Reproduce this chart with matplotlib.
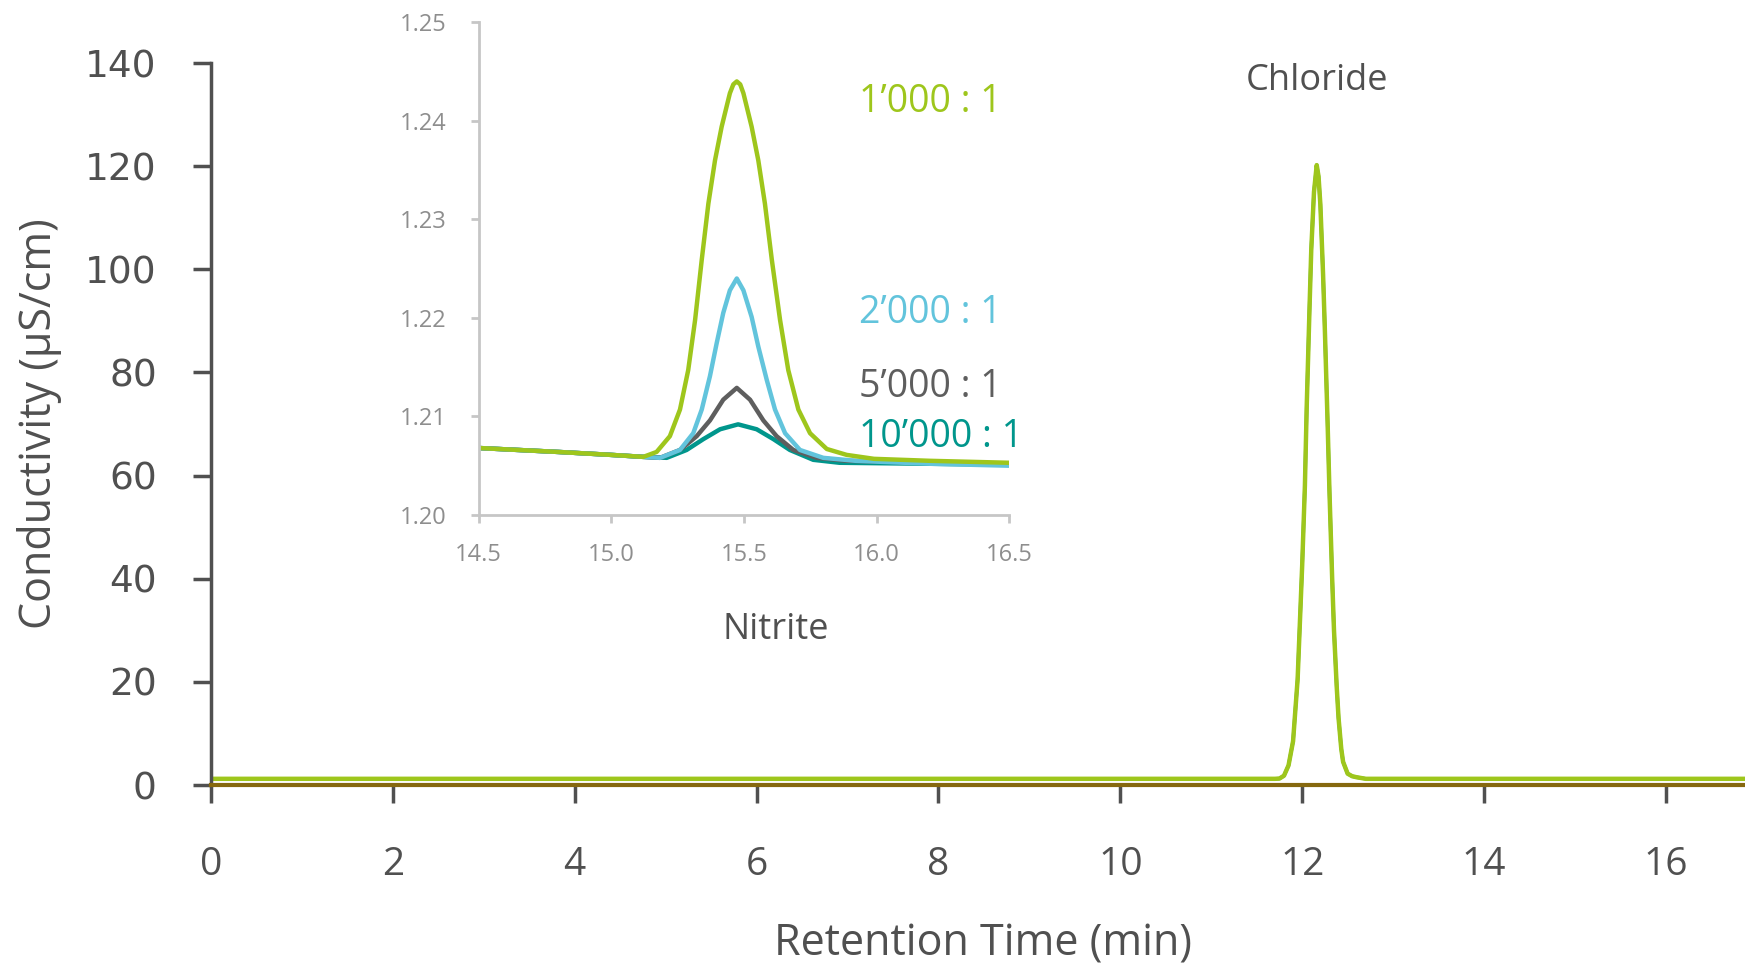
import numpy as np
import matplotlib
matplotlib.use('Agg')
import matplotlib.pyplot as plt

# main chromatogram
main_time = [0.0, 11.70, 11.75, 11.80, 11.85, 11.90, 11.95, 12.00, 12.03, 12.05, 12.08, 12.10, 12.13,
             12.16, 12.18, 12.20, 12.23, 12.25, 12.28, 12.30, 12.33, 12.35, 12.38, 12.40, 12.43,
             12.45, 12.50, 12.55, 12.60, 12.70, 16.87]
main_cond = [1.2, 1.2, 1.25, 1.8, 3.8, 8.5, 20.5, 42.5, 58.0, 73.4, 92.0, 103.8, 115.0,
             120.2, 118.0, 112.6, 99.0, 88.0, 70.0, 57.0, 40.0, 30.0, 19.0, 13.0, 7.0,
             4.5, 2.2, 1.7, 1.5, 1.2, 1.2]

# inset: nitrite peak at the four dilutions
time_1000 = [14.50, 14.80, 15.00, 15.121, 15.171, 15.221, 15.259, 15.290, 15.316, 15.341, 15.366, 15.391,
             15.416, 15.447, 15.460, 15.473, 15.486, 15.498, 15.529, 15.554, 15.579, 15.605, 15.636,
             15.667, 15.705, 15.749, 15.812, 15.887, 15.99, 16.20, 16.50]
ratio_1000 = [1.2068, 1.2064, 1.2061, 1.2059, 1.2064, 1.2080, 1.2107, 1.2147, 1.2198, 1.2259, 1.2316, 1.2360,
              1.2394, 1.2428, 1.2437, 1.2440, 1.2437, 1.2428, 1.2394, 1.2360, 1.2316, 1.2259, 1.2198,
              1.2147, 1.2107, 1.2083, 1.2067, 1.2061, 1.2057, 1.2055, 1.2053]
time_2000 = [14.50, 14.80, 15.00, 15.12, 15.184, 15.259, 15.309, 15.341, 15.372, 15.397, 15.422, 15.447,
             15.473, 15.498, 15.529, 15.554, 15.586, 15.617, 15.655, 15.711, 15.799, 15.92, 16.20, 16.50]
ratio_2000 = [1.2068, 1.2064, 1.2061, 1.2059, 1.2058, 1.2066, 1.2083, 1.2107, 1.2141, 1.2174, 1.2205, 1.2228,
              1.2240, 1.2228, 1.2201, 1.2171, 1.2137, 1.2107, 1.2083, 1.2066, 1.2058, 1.2055, 1.2052, 1.2050]
time_5000 = [14.50, 14.80, 15.00, 15.12, 15.184, 15.259, 15.322, 15.372, 15.422, 15.473, 15.523, 15.573,
             15.623, 15.686, 15.774, 15.887, 16.20, 16.50]
ratio_5000 = [1.2068, 1.2064, 1.2061, 1.2059, 1.2058, 1.2066, 1.2080, 1.2096, 1.2117, 1.2129, 1.2117, 1.2096,
              1.2080, 1.2066, 1.2058, 1.2055, 1.2053, 1.2052]
time_10000 = [14.50, 14.80, 15.00, 15.12, 15.209, 15.284, 15.347, 15.410, 15.478, 15.548, 15.611, 15.673,
              15.761, 15.86, 16.20, 16.50]
ratio_10000 = [1.2068, 1.2064, 1.2061, 1.2059, 1.2058, 1.2066, 1.2077, 1.2087, 1.2092, 1.2087, 1.2077, 1.2066,
               1.2056, 1.2053, 1.2052, 1.2051]

labels = ['10’000 : 1', '5’000 : 1', '2’000 : 1', '1’000 : 1']
colors = ['#00968c', '#5e5e5e', '#62c4dc', '#9ec61c']
times = [time_10000, time_5000, time_2000, time_1000]
series = [ratio_10000, ratio_5000, ratio_2000, ratio_1000]
label_pos = [(859, 437), (859, 387), (859, 313), (859, 102)]

W, H = 1745, 965
fig = plt.figure(figsize=(W / 100, H / 100), dpi=100)
dark = '#505050'

ax = fig.add_axes([211 / W, 1 - 785 / H, 1 - 211 / W, (785 - 63) / H])
ax.plot(main_time, main_cond, color='#00968c', lw=2.5)
ax.plot(main_time, main_cond, color='#9ec61c', lw=3.2, solid_joinstyle='round')
ax.set_xlim(0, 16.87)
ax.set_ylim(0, 140)
ax.set_xticks(range(0, 17, 2))
ax.set_yticks(range(0, 141, 20))
for s in ['top', 'right']:
    ax.spines[s].set_visible(False)
ax.spines['left'].set_color(dark)
ax.spines['left'].set_linewidth(2.5)
ax.spines['bottom'].set_color('#86680f')
ax.spines['bottom'].set_linewidth(3)
ax.tick_params(axis='both', colors=dark, width=2.5, length=13, labelcolor=dark)
ax.tick_params(axis='x', pad=31, labelsize=28)
ax.tick_params(axis='y', pad=26, labelsize=27)
for t in ax.get_xticklabels():
    t.set_fontfamily('Open Sans')
for t in ax.get_yticklabels():
    t.set_fontfamily('DejaVu Sans')
ax.set_xlabel('Retention Time (min)', fontsize=31, color=dark, family='Open Sans')
ax.set_ylabel('Conductivity (µS/cm)', fontsize=31, color=dark, family='Open Sans')
ax.xaxis.set_label_coords(0.503, -0.221)
ax.xaxis.label.set_va('center')
ax.yaxis.set_label_coords(-0.112, 0.501)
ax.yaxis.label.set_va('center')
ax.text(12.16, 136.5, 'Chloride', fontsize=26, color=dark, family='Open Sans', ha='center', va='center')

# inset
ins = fig.add_axes([478.5 / W, 1 - 515 / H, (1009.4 - 478.5) / W, (515 - 22.3) / H])
for tt, vals, c in zip(times, series, colors):
    ins.plot(tt, vals, color=c, lw=3.2, solid_joinstyle='round')
ins.set_xlim(14.5, 16.5)
ins.set_ylim(1.20, 1.25)
ins.set_xticks([14.5, 15.0, 15.5, 16.0, 16.5])
ins.set_yticks([1.20, 1.21, 1.22, 1.23, 1.24, 1.25])
ins.xaxis.set_major_formatter(plt.FormatStrFormatter('%.1f'))
ins.yaxis.set_major_formatter(plt.FormatStrFormatter('%.2f'))
for s in ['top', 'right']:
    ins.spines[s].set_visible(False)
for s in ['left', 'bottom']:
    ins.spines[s].set_color('#c6c6c6')
    ins.spines[s].set_linewidth(2)
ins.tick_params(axis='both', colors='#c6c6c6', width=2, length=6, labelcolor='#8e8e8e', labelsize=17)
ins.tick_params(axis='x', pad=14)
ins.tick_params(axis='y', pad=17)
for t in ins.get_xticklabels() + ins.get_yticklabels():
    t.set_fontfamily('Open Sans')
ins.patch.set_alpha(0)

fig.text(776 / W, 1 - 630 / H, 'Nitrite', fontsize=26, color=dark, family='Open Sans', ha='center', va='center')
for lab, c, (px, py) in zip(labels, colors, label_pos):
    fig.text(px / W, 1 - py / H, lab, fontsize=27, color=c, family='Open Sans', ha='left', va='center')

fig.savefig('out.png', dpi=100)
